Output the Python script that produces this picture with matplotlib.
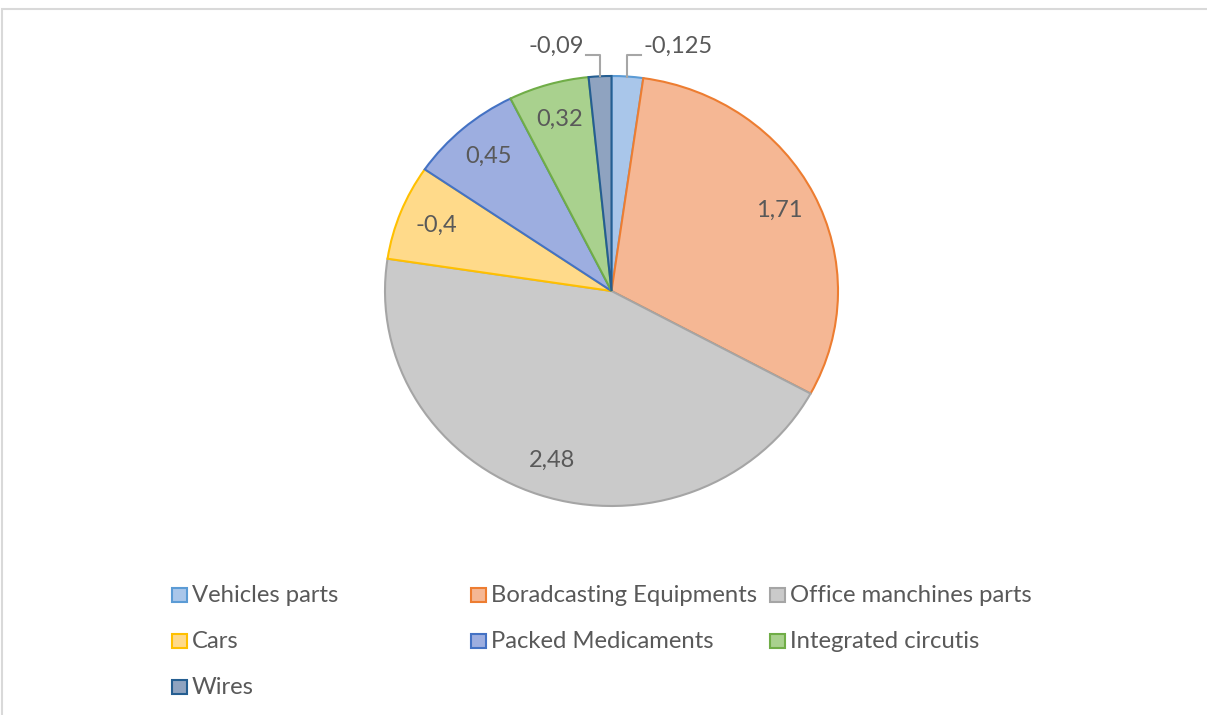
import matplotlib.pyplot as plt
import numpy as np
from matplotlib.patches import Rectangle

plt.rcParams['font.family'] = ['Lato', 'DejaVu Sans']

# data
labels = ['Vehicles parts', 'Boradcasting Equipments', 'Office manchines parts',
          'Cars', 'Packed Medicaments', 'Integrated circutis', 'Wires']
values = [-0.125, 1.71, 2.48, -0.4, 0.45, 0.32, -0.09]
fills = ['#A9C6EA', '#F5B794', '#CACACA', '#FFDA8A', '#9DAEE0', '#A9D18E', '#8FA3C0']
edges = ['#5B9BD5', '#ED7D31', '#A5A5A5', '#FFC000', '#4472C4', '#70AD47', '#255E91']

txt_col = '#595959'
W, H = 1207, 715
fig = plt.figure(figsize=(W / 100, H / 100), dpi=100)

# chart frame (light grey)
fig.patches.append(Rectangle((2 / W, -0.1), 1.2, (H - 9) / H + 0.1, transform=fig.transFigure,
                             fill=False, ec='#D9D9D9', lw=1.5))

# pie area: centre (611.5, 291), rx 226.5, ry 215 px
cx, cy, rx, ry = 611.5, 291, 226.5, 215
ax = fig.add_axes([(cx - rx) / W, (H - cy - ry) / H, 2 * rx / W, 2 * ry / H])

sizes = np.abs(values)
wedges, _ = ax.pie(sizes, colors=fills, startangle=90, counterclock=False,
                   wedgeprops=dict(linewidth=1.5), radius=1)
for w, e in zip(wedges, edges):
    w.set_edgecolor(e)
ax.set_aspect('auto')
ax.set_xlim(-1, 1)
ax.set_ylim(-1, 1)

frac = sizes / sizes.sum()
for i, w in enumerate(wedges):
    mid = np.deg2rad((w.theta1 + w.theta2) / 2)
    s = str(values[i]).replace('.', ',')
    if frac[i] > 0.03:
        r = 0.83
        ax.text(r * np.cos(mid), r * np.sin(mid), s, ha='center', va='center',
                fontsize=17, color=txt_col)
    else:
        x0, y0 = np.cos(mid), np.sin(mid)
        y1 = 1.10
        side = 1 if x0 > 0 else -1
        x1 = x0 + side * 0.062
        ax.plot([x0, x0, x1], [y0, y1, y1], color='#A6A6A6', lw=1.5, clip_on=False)
        ax.text(x1 + side * 0.01, y1 + 0.04, s, ha='left' if side > 0 else 'right',
                va='center', fontsize=17, color=txt_col)

# legend, three columns row by row
col_x = [172, 471, 770]
row_y = [595, 641, 687]
for i, name in enumerate(labels):
    x = col_x[i % 3]
    y = row_y[i // 3]
    fig.patches.append(Rectangle((x / W, (H - y - 7) / H), 15 / W, 14 / H,
                                 transform=fig.transFigure, fc=fills[i], ec=edges[i], lw=1.5))
    fig.text((x + 20) / W, (H - y) / H, name, fontsize=17.2, color=txt_col, va='center')

plt.savefig('out.png', dpi=100)
